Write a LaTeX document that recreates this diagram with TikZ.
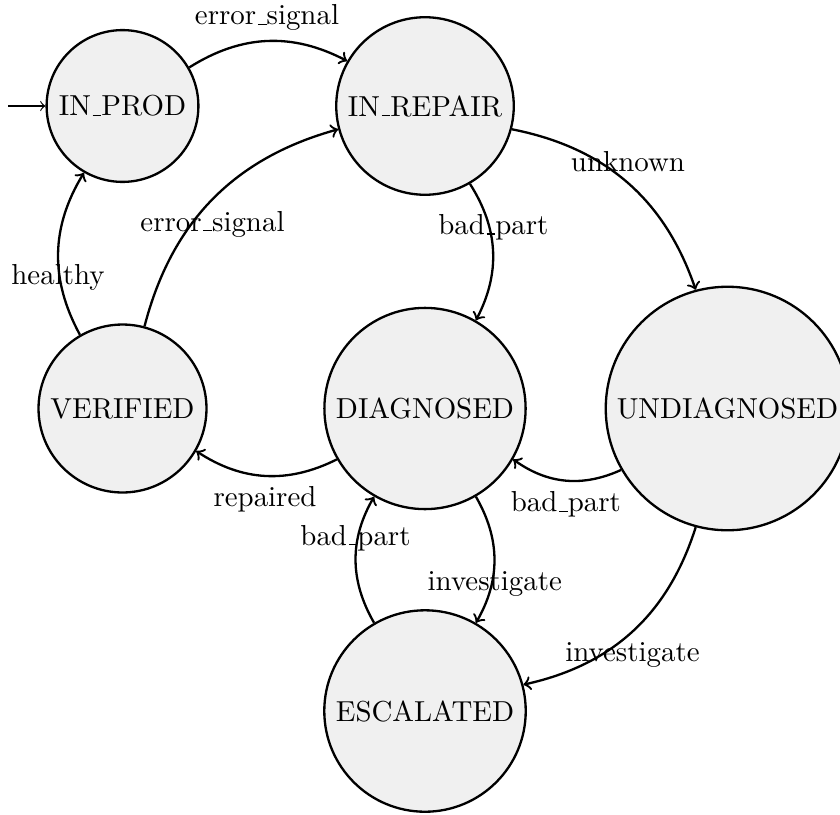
\documentclass[tikz,border=0pt]{standalone}
\newcommand\uscore{\leavevmode\kern.06em\vbox{\hrule width.3em}}
\definecolor{statefill}{gray}{0.94}
\tikzset{
  statenode/.style={circle,draw,thick,fill=statefill,inner sep=3.33pt},
  trans/.style={->,thick,bend left=30},
  initarrow/.style={->},
  lab/.style={anchor=base,inner sep=0pt}
}
\begin{document}
\begin{tikzpicture}[x=0.34602pt,y=-0.34602pt]
\useasboundingbox (0,0) rectangle (840,814);
% states
\node[statenode] (inprod) at (122.5,106) {IN\uscore PROD};
\node[statenode] (inrepair) at (425,106) {IN\uscore REPAIR};
\node[statenode] (verified) at (122.5,408.5) {VERIFIED};
\node[statenode] (diagnosed) at (425,408.5) {DIAGNOSED};
\node[statenode] (undiag) at (727.5,408.5) {UNDIAGNOSED};
\node[statenode] (escalated) at (425,711) {ESCALATED};
% initial
\coordinate (init) at (8,106);
\draw[initarrow] (init) -- (inprod);
% transitions
\draw[trans] (inprod) to (inrepair);
\draw[trans] (verified) to (inprod);
\draw[trans] (verified) to (inrepair);
\draw[trans] (inrepair) to (undiag);
\draw[trans] (inrepair) to (diagnosed);
\draw[trans] (diagnosed) to (verified);
\draw[trans] (undiag) to (diagnosed);
\draw[trans] (diagnosed) to (escalated);
\draw[trans] (escalated) to (diagnosed);
\draw[trans] (undiag) to (escalated);
% labels
\node[lab] (l1) at (267,25) {error\uscore signal};
\node[lab] (l2) at (212.5,231) {error\uscore signal};
\node[lab] (l3) at (58,284) {healthy};
\node[lab] (l4) at (493.3,234.5) {bad\uscore part};
\node[lab] (l5) at (628,171.7) {unknown};
\node[lab] (l6) at (265,506.7) {repaired};
\node[lab] (l7) at (355.5,545) {bad\uscore part};
\node[lab] (l8) at (565.8,511.7) {bad\uscore part};
\node[lab] (l9) at (494.8,590) {investigate};
\node[lab] (l10) at (632.5,661.7) {investigate};
\end{tikzpicture}
\end{document}
